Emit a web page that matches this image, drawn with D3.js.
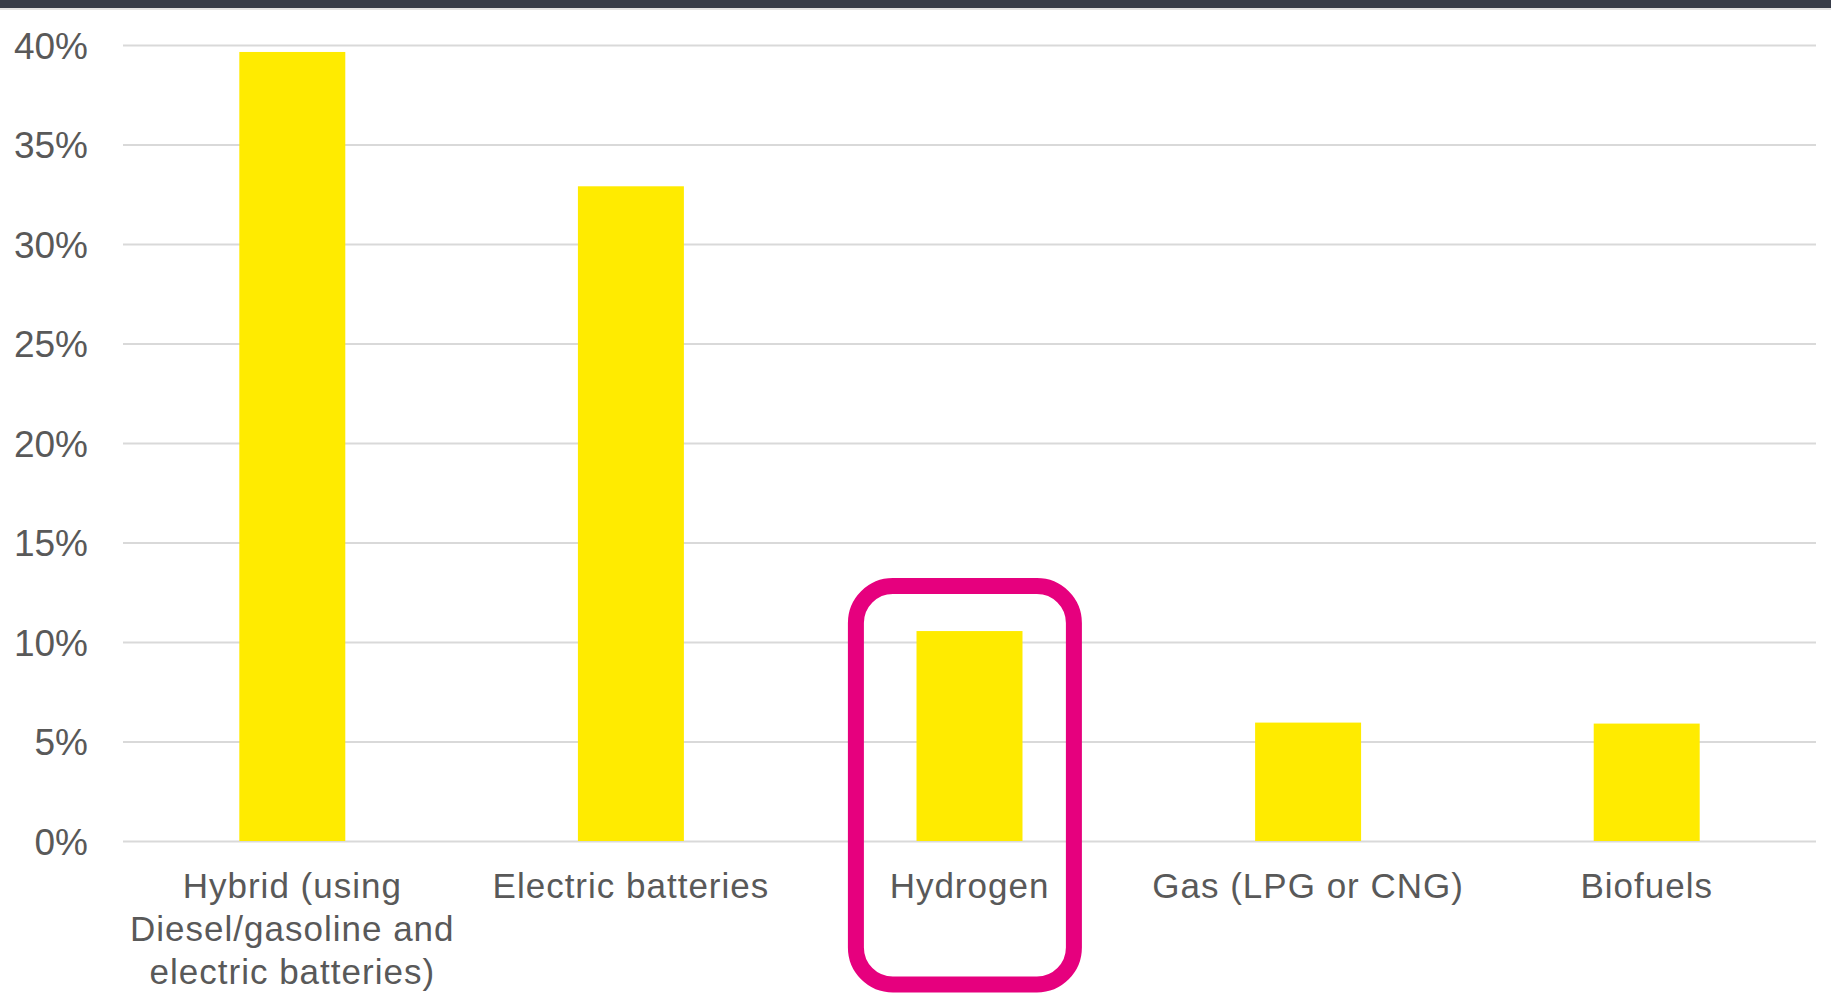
<!DOCTYPE html>
<html>
  <head>
    <script src='https://cdn.jsdelivr.net/npm/d3@7'></script>
    <style type='text/css'>
      body, html { margin: 0; padding: 0; background: #fff; }
      svg { display: block; }
    </style>
  </head>
  <body>
    <svg id='chart' width='1831' height='995' font-family='Liberation Sans, Arial, sans-serif'></svg>
    <script type='text/javascript'>
      var categories = [
        'Hybrid (using Diesel/gasoline and electric batteries)',
        'Electric batteries',
        'Hydrogen',
        'Gas (LPG or CNG)',
        'Biofuels'
      ]
      var values = [0.3965, 0.329, 0.1055, 0.0595, 0.059]
      var yTicks = [0, 0.05, 0.10, 0.15, 0.20, 0.25, 0.30, 0.35, 0.40]
      var highlighted = 'Hydrogen'

      var width = 1831, height = 995
      var svg = d3.select('#chart')

      // dark strip along the top edge
      svg.append('rect').attr('x', 0).attr('y', 0).attr('width', width).attr('height', 8).attr('fill', '#373c48')
      svg.append('rect').attr('x', 0).attr('y', 8).attr('width', width).attr('height', 2).attr('fill', '#e2e2e2')

      var x = d3.scaleBand()
        .domain(categories)
        .range([123, 1816])
        .paddingInner(0.687)
        .paddingOuter(0.3435)

      var y = d3.scaleLinear()
        .domain([0, 0.4])
        .range([841, 45])

      // gridlines + y labels
      var yAxis = d3.axisLeft(y)
        .tickValues(yTicks)
        .tickFormat(d3.format('.0%'))
        .tickSize(-(1816 - 123))
        .tickPadding(35)

      var gy = svg.append('g')
        .attr('transform', 'translate(123,0)')
        .call(yAxis)
      gy.select('.domain').remove()
      gy.selectAll('.tick line').attr('stroke', '#d9d9d9').attr('stroke-width', 2)
      gy.selectAll('.tick text')
        .attr('fill', '#595959')
        .attr('font-size', 37)
        .attr('dy', '0.36em')

      // bars
      svg.append('g').selectAll('rect')
        .data(values)
        .enter().append('rect')
          .attr('x', function(d, i) { return x(categories[i]) })
          .attr('y', function(d) { return y(d) })
          .attr('width', x.bandwidth())
          .attr('height', function(d) { return y(0) - y(d) })
          .attr('fill', '#ffeb00')

      // x axis labels, wrapped to the band step
      var gx = svg.append('g')
        .attr('transform', 'translate(0,' + y(0) + ')')
        .call(d3.axisBottom(x).tickSize(0).tickPadding(0))
      gx.select('.domain').remove()
      gx.selectAll('.tick text')
        .attr('fill', '#595959')
        .attr('font-size', 35)
        .attr('letter-spacing', 1)
        .attr('y', 57)
        .attr('dy', 0)
        .each(function(d) {
          var text = d3.select(this)
          var words = d.split(' ')
          text.text(null)
          var lines = [], line = []
          var probe = text.append('tspan')
          words.forEach(function(w) {
            line.push(w)
            probe.text(line.join(' '))
            if (probe.node().getComputedTextLength() > x.step() && line.length > 1) {
              line.pop()
              lines.push(line.join(' '))
              line = [w]
            }
          })
          lines.push(line.join(' '))
          probe.remove()
          lines.forEach(function(l, i) {
            text.append('tspan')
              .attr('x', 0)
              .attr('y', 57 + i * 43)
              .text(l)
          })
        })

      // highlight box around Hydrogen
      var hx = x(highlighted) + x.bandwidth() / 2
      var boxW = 218
      svg.append('rect')
        .attr('x', hx - 4.6 - boxW / 2)
        .attr('y', y(values[categories.indexOf(highlighted)]) - 45)
        .attr('width', boxW)
        .attr('height', 984.5 - (y(values[categories.indexOf(highlighted)]) - 45))
        .attr('rx', 37)
        .attr('ry', 37)
        .attr('fill', 'none')
        .attr('stroke', '#e6007e')
        .attr('stroke-width', 16)
    </script>
  </body>
</html>
